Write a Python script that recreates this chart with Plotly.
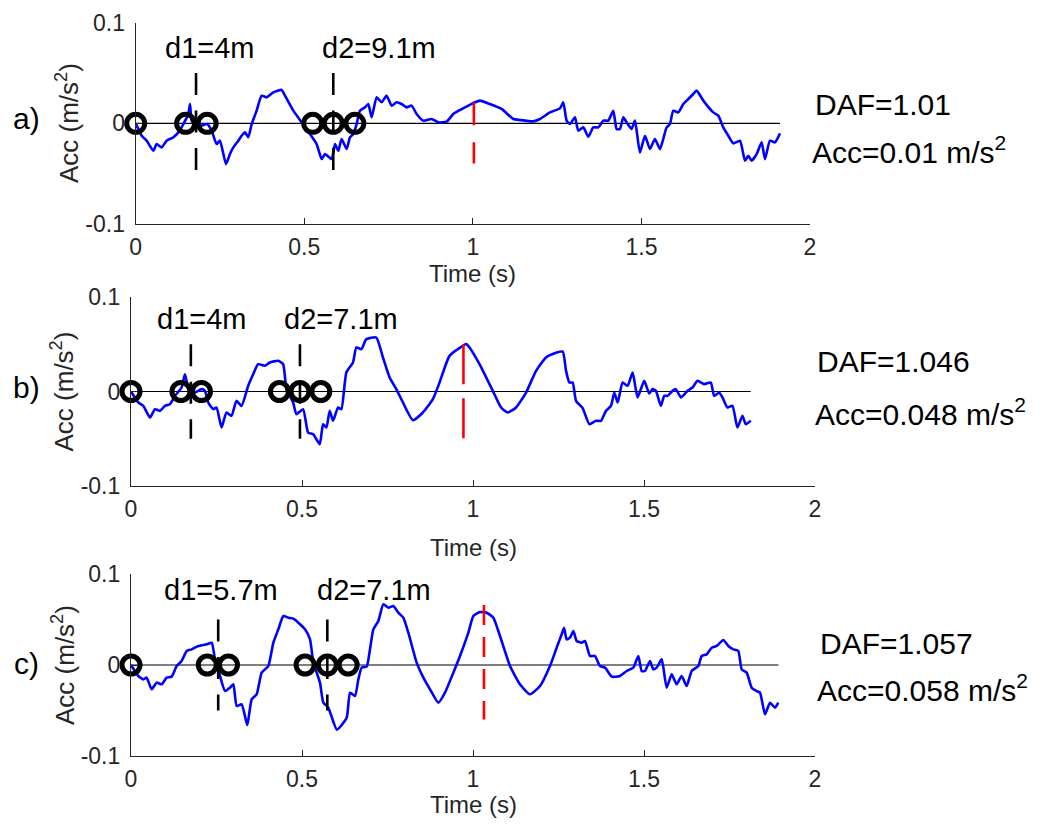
import plotly.graph_objects as go

W, H = 1043, 825

# ---------------- data ----------------
t_a = [0.0, 0.0177, 0.0325, 0.0523, 0.0622, 0.0770, 0.0918, 0.1116, 0.1264, 0.1413, 0.1561, 0.1610,
       0.1660, 0.1808, 0.1956, 0.2124, 0.2253, 0.2401, 0.2500, 0.2678, 0.2796, 0.2895, 0.3043, 0.3142,
       0.3241, 0.3340, 0.3439, 0.3587, 0.3735, 0.3884, 0.4082, 0.4329, 0.4428, 0.4675, 0.4922, 0.5169,
       0.5367, 0.5515, 0.5614, 0.5812, 0.5911, 0.6010, 0.6108, 0.6257, 0.6355, 0.6454, 0.6553, 0.6652,
       0.6800, 0.6899, 0.6998, 0.7146, 0.7294, 0.7443, 0.7591, 0.7739, 0.7887, 0.8036, 0.8184, 0.8332,
       0.8530, 0.8777, 0.8975, 0.9222, 0.9420, 0.9618, 0.9865, 1.0062, 1.0211, 1.0507, 1.0853, 1.1199,
       1.1397, 1.1792, 1.1990, 1.2287, 1.2583, 1.2682, 1.2781, 1.2880, 1.3028, 1.3127, 1.3276, 1.3424,
       1.3572, 1.3721, 1.3869, 1.4017, 1.4165, 1.4264, 1.4363, 1.4462, 1.4561, 1.4709, 1.4808, 1.4956,
       1.5105, 1.5253, 1.5401, 1.5550, 1.5747, 1.5846, 1.5945, 1.6094, 1.6242, 1.6390, 1.6539, 1.6638,
       1.6835, 1.7132, 1.7280, 1.7428, 1.7577, 1.7725, 1.7923, 1.8071, 1.8170, 1.8269, 1.8417, 1.8566,
       1.8665, 1.8813, 1.8961, 1.9110]
acc_a = [0.0, -0.0123, -0.0172, -0.0272, -0.0206, -0.0239, -0.0172, -0.0139, -0.0090, -0.0007, 0.0093, 0.0192,
         0.0027, -0.0040, -0.0023, -0.0007, -0.0073, -0.0206, -0.0172, -0.0405, -0.0305, -0.0239, -0.0172, -0.0123,
         -0.0090, -0.0139, -0.0007, 0.0126, 0.0275, 0.0259, 0.0308, 0.0332, 0.0275, 0.0126, 0.0010, -0.0106,
         -0.0206, -0.0355, -0.0305, -0.0355, -0.0206, -0.0272, -0.0156, -0.0255, -0.0139, -0.0106, -0.0007, 0.0126,
         0.0159, 0.0192, 0.0060, 0.0259, 0.0209, 0.0275, 0.0176, 0.0209, 0.0192, 0.0159, 0.0176, 0.0093,
         0.0027, 0.0043, 0.0010, 0.0017, 0.0093, 0.0133, 0.0176, 0.0209, 0.0226, 0.0192, 0.0143, 0.0043,
         0.0033, 0.0020, 0.0043, 0.0109, 0.0149, 0.0209, 0.0027, -0.0007, 0.0060, -0.0073, -0.0040, -0.0133,
         -0.0040, -0.0040, 0.0027, 0.0027, 0.0126, -0.0056, -0.0056, 0.0060, 0.0010, -0.0056, 0.0027, -0.0289,
         -0.0123, -0.0255, -0.0156, -0.0255, -0.0040, -0.0007, 0.0126, 0.0109, 0.0192, 0.0242, 0.0292, 0.0325,
         0.0226, 0.0109, 0.0076, -0.0040, -0.0123, -0.0199, -0.0172, -0.0371, -0.0322, -0.0371, -0.0305, -0.0189,
         -0.0355, -0.0172, -0.0189, -0.0100]

t_b = [0.0, 0.0214, 0.0360, 0.0555, 0.0701, 0.0847, 0.0993, 0.1139, 0.1285, 0.1479, 0.1577, 0.1674,
       0.1869, 0.2063, 0.2161, 0.2258, 0.2404, 0.2501, 0.2647, 0.2793, 0.2939, 0.3085, 0.3231, 0.3426,
       0.3572, 0.3718, 0.3912, 0.4058, 0.4302, 0.4448, 0.4545, 0.4740, 0.4837, 0.5032, 0.5178, 0.5324,
       0.5518, 0.5616, 0.5713, 0.5810, 0.5908, 0.6054, 0.6151, 0.6297, 0.6491, 0.6589, 0.6735, 0.6881,
       0.7173, 0.7367, 0.7562, 0.7757, 0.7951, 0.8243, 0.8535, 0.8827, 0.9022, 0.9314, 0.9703, 0.9800,
       0.9898, 1.0190, 1.0579, 1.0822, 1.1017, 1.1260, 1.1552, 1.1844, 1.2136, 1.2428, 1.2623, 1.2720,
       1.2818, 1.2915, 1.3012, 1.3207, 1.3401, 1.3596, 1.3742, 1.3888, 1.4034, 1.4131, 1.4229, 1.4375,
       1.4521, 1.4667, 1.4813, 1.5007, 1.5153, 1.5251, 1.5348, 1.5494, 1.5591, 1.5689, 1.5835, 1.5932,
       1.6078, 1.6273, 1.6418, 1.6564, 1.6759, 1.6953, 1.7051, 1.7197, 1.7294, 1.7440, 1.7586, 1.7732,
       1.7878, 1.7976, 1.8122]
acc_b = [0.0, -0.0116, -0.0152, -0.0275, -0.0187, -0.0205, -0.0152, -0.0134, -0.0046, 0.0042, 0.0183, 0.0042,
         -0.0011, 0.0025, 0.0007, -0.0116, -0.0187, -0.0169, -0.0381, -0.0222, -0.0257, -0.0099, -0.0152, 0.0060,
         0.0183, 0.0289, 0.0272, 0.0307, 0.0325, 0.0289, 0.0025, -0.0116, -0.0240, -0.0187, -0.0434, -0.0451,
         -0.0557, -0.0346, -0.0381, -0.0205, -0.0310, -0.0169, -0.0187, 0.0201, 0.0307, 0.0466, 0.0448, 0.0554,
         0.0571, 0.0360, 0.0148, 0.0025, -0.0116, -0.0303, -0.0222, -0.0081, 0.0095, 0.0377, 0.0483, 0.0501,
         0.0466, 0.0289, 0.0007, -0.0169, -0.0222, -0.0169, -0.0011, 0.0219, 0.0360, 0.0409, 0.0423, 0.0219,
         0.0095, 0.0095, -0.0099, -0.0176, -0.0346, -0.0310, -0.0310, -0.0205, -0.0152, -0.0011, -0.0116, 0.0095,
         0.0060, 0.0201, -0.0063, 0.0113, -0.0021, 0.0025, 0.0007, -0.0152, -0.0046, -0.0046, 0.0007, 0.0025,
         -0.0063, 0.0007, 0.0042, 0.0113, 0.0078, 0.0095, -0.0046, -0.0011, -0.0063, -0.0169, -0.0152, -0.0381,
         -0.0257, -0.0346, -0.0310]

t_c = [0.0, 0.0214, 0.0361, 0.0458, 0.0604, 0.0750, 0.0897, 0.1043, 0.1189, 0.1335, 0.1481, 0.1628,
       0.1774, 0.1969, 0.2212, 0.2359, 0.2456, 0.2602, 0.2749, 0.2895, 0.2992, 0.3090, 0.3236, 0.3400,
       0.3528, 0.3674, 0.3821, 0.4016, 0.4162, 0.4308, 0.4454, 0.4600, 0.4747, 0.4893, 0.5088, 0.5234,
       0.5331, 0.5429, 0.5526, 0.5624, 0.5770, 0.6020, 0.6306, 0.6404, 0.6550, 0.6647, 0.6745, 0.6891,
       0.6988, 0.7086, 0.7232, 0.7378, 0.7524, 0.7671, 0.7817, 0.7963, 0.8109, 0.8353, 0.8548, 0.8743,
       0.8986, 0.9181, 0.9425, 0.9620, 0.9864, 1.0010, 1.0205, 1.0400, 1.0595, 1.0789, 1.1082, 1.1374,
       1.1667, 1.1959, 1.2251, 1.2446, 1.2593, 1.2661, 1.2739, 1.2836, 1.2934, 1.3031, 1.3177, 1.3275,
       1.3421, 1.3567, 1.3713, 1.3860, 1.4055, 1.4298, 1.4493, 1.4688, 1.4834, 1.4932, 1.5029, 1.5175,
       1.5273, 1.5370, 1.5517, 1.5663, 1.5809, 1.5955, 1.6101, 1.6248, 1.6394, 1.6589, 1.6686, 1.6832,
       1.6979, 1.7125, 1.7320, 1.7466, 1.7612, 1.7758, 1.7856, 1.8002, 1.8148, 1.8294, 1.8392, 1.8538,
       1.8684, 1.8830, 1.8928]
acc_c = [0.0, -0.0121, -0.0158, -0.0139, -0.0267, -0.0194, -0.0212, -0.0139, -0.0128, -0.0011, 0.0044, 0.0154,
         0.0172, 0.0209, 0.0227, 0.0245, 0.0062, -0.0121, -0.0286, -0.0249, -0.0212, -0.0451, -0.0432, -0.0660,
         -0.0377, -0.0322, -0.0084, -0.0011, 0.0245, 0.0392, 0.0538, 0.0520, 0.0509, 0.0465, 0.0392, 0.0282,
         0.0026, -0.0084, -0.0194, -0.0414, -0.0469, -0.0710, -0.0579, -0.0304, -0.0341, -0.0158, -0.0029, -0.0018,
         0.0172, 0.0392, 0.0484, 0.0667, 0.0630, 0.0648, 0.0575, 0.0520, 0.0355, 0.0026, -0.0139, -0.0267,
         -0.0414, -0.0304, -0.0084, 0.0099, 0.0355, 0.0538, 0.0582, 0.0575, 0.0520, 0.0319, -0.0011, -0.0212,
         -0.0322, -0.0231, -0.0011, 0.0190, 0.0337, 0.0410, 0.0282, 0.0300, 0.0374, 0.0264, 0.0245, 0.0264,
         0.0099, 0.0099, -0.0011, -0.0029, -0.0128, -0.0121, -0.0066, -0.0029, 0.0099, -0.0066, -0.0066, 0.0044,
         -0.0048, -0.0029, 0.0062, -0.0249, -0.0103, -0.0212, -0.0121, -0.0231, -0.0066, -0.0011, 0.0099, 0.0117,
         0.0190, 0.0209, 0.0275, 0.0209, 0.0172, 0.0154, -0.0048, -0.0084, -0.0249, -0.0286, -0.0304, -0.0542,
         -0.0414, -0.0469, -0.0414]

circles_a = [0.0, 0.148, 0.212, 0.525, 0.586, 0.650]
circles_b = [0.0, 0.146, 0.206, 0.434, 0.494, 0.555]
circles_c = [0.0, 0.223, 0.285, 0.509, 0.574, 0.635]

dlines_a = [0.179, 0.586]
dlines_b = [0.175, 0.494]
dlines_c = [0.255, 0.574]
dline_span = [0.05, -0.05]

peak_a, peak_b, peak_c = 1.003, 0.972, 1.032
red_span_a = [0.021, -0.040]
red_span_b = [0.050, -0.056]
red_span_c = [0.066, -0.060]

zero_end = [1.911, 1.812, 1.893]

dlabels_a = ["d1=4m", "d2=9.1m"]
dlabels_b = ["d1=4m", "d2=7.1m"]
dlabels_c = ["d1=5.7m", "d2=7.1m"]
daf_labels = ["DAF=1.01", "DAF=1.046", "DAF=1.057"]
acc_labels = ["Acc=0.01 m/s<sup>2</sup>", "Acc=0.048 m/s<sup>2</sup>", "Acc=0.058 m/s<sup>2</sup>"]
panel_letters = ["a)", "b)", "c)"]

x_ticks = [0, 0.5, 1, 1.5, 2]
x_ticktext = ["0", "0.5", "1", "1.5", "2"]
y_ticks = [-0.1, 0, 0.1]
y_ticktext = ["-0.1", "0", "0.1"]

# ---------------- layout geometry (pixels) ----------------
FONT = "Liberation Sans, Arial, Helvetica, sans-serif"
AXC = "#262626"

panels = [
    dict(t=t_a, v=acc_a, circ=circles_a, dl=dlines_a, peak=peak_a, red=red_span_a,
         dlab=dlabels_a, dlab_x=[163, 320], dlab_y=48,
         x0=135.7, x1=810, ytop=22.7, ybot=224, red_dash="23px,17px",
         daf_x=813, daf_y=105, acc_x=810, acc_y=150, title_y=273, letter_y=118),
    dict(t=t_b, v=acc_b, circ=circles_b, dl=dlines_b, peak=peak_b, red=red_span_b,
         dlab=dlabels_b, dlab_x=[155, 282], dlab_y=319,
         x0=131, x1=815, ytop=297, ybot=486, red_dash="40px,14px",
         daf_x=815, daf_y=362, acc_x=813, acc_y=412, title_y=547, letter_y=388),
    dict(t=t_c, v=acc_c, circ=circles_c, dl=dlines_c, peak=peak_c, red=red_span_c,
         dlab=dlabels_c, dlab_x=[162, 315], dlab_y=590,
         x0=131, x1=815, ytop=574, ybot=756, red_dash="20px,12px",
         daf_x=818, daf_y=643, acc_x=815, acc_y=688, title_y=804, letter_y=663),
]


def px(x):
    return x / W


def py(y):
    return 1 - y / H


fig = go.Figure()
annotations = []
layout = {}

for i, p in enumerate(panels):
    n = "" if i == 0 else str(i + 1)
    xa, ya = "x" + n, "y" + n

    # zero line
    fig.add_trace(go.Scatter(x=[0, zero_end[i]], y=[0, 0], mode="lines",
                             line=dict(color="black", width=1.2), xaxis=xa, yaxis=ya,
                             showlegend=False, hoverinfo="skip"))
    # signal
    fig.add_trace(go.Scatter(x=p["t"], y=p["v"], mode="lines",
                             line=dict(color="#0000FF", width=2.6, shape="spline", smoothing=0.5),
                             xaxis=xa, yaxis=ya, showlegend=False, cliponaxis=False))
    # axle circles
    fig.add_trace(go.Scatter(x=p["circ"], y=[0] * len(p["circ"]), mode="markers",
                             marker=dict(symbol="circle-open", size=18, color="black",
                                         line=dict(width=5, color="black")),
                             xaxis=xa, yaxis=ya, showlegend=False, cliponaxis=False))
    # dashed black lines
    for xd in p["dl"]:
        fig.add_trace(go.Scatter(x=[xd, xd], y=dline_span, mode="lines",
                                 line=dict(color="black", width=2.6, dash="22px,15.5px"),
                                 xaxis=xa, yaxis=ya, showlegend=False, hoverinfo="skip"))
    # red dashed line
    fig.add_trace(go.Scatter(x=[p["peak"], p["peak"]], y=p["red"], mode="lines",
                             line=dict(color="#FF0000", width=2.6, dash=p["red_dash"]),
                             xaxis=xa, yaxis=ya, showlegend=False, hoverinfo="skip"))

    axis_common = dict(showgrid=False, zeroline=False, showline=True, linecolor=AXC, linewidth=1.2,
                       ticks="inside", ticklen=6, tickwidth=1.2, tickcolor=AXC,
                       tickfont=dict(family=FONT, size=23, color=AXC), mirror=False)
    layout["xaxis" + n] = dict(axis_common, domain=[px(p["x0"]), px(p["x1"])], range=[0, 2],
                               tickvals=x_ticks, ticktext=x_ticktext, anchor=ya,
                               ticklabelstandoff=2)
    layout["yaxis" + n] = dict(axis_common, domain=[py(p["ybot"]), py(p["ytop"])], range=[-0.1, 0.1],
                               tickvals=y_ticks, ticktext=y_ticktext, anchor=xa,
                               ticklabelstandoff=5)

    # axis titles
    annotations.append(dict(text="Time (s)", x=px((p["x0"] + p["x1"]) / 2), y=py(p["title_y"]),
                            xref="paper", yref="paper", showarrow=False, xanchor="center",
                            yanchor="middle", font=dict(family=FONT, size=24, color=AXC)))
    annotations.append(dict(text="Acc (m/s<sup>2</sup>)", x=px(p["x0"] - 68),
                            y=py((p["ytop"] + p["ybot"]) / 2),
                            xref="paper", yref="paper", showarrow=False, textangle=-90,
                            xanchor="center", yanchor="middle",
                            font=dict(family=FONT, size=26, color=AXC)))
    # panel letter
    annotations.append(dict(text=panel_letters[i], x=px(26), y=py(p["letter_y"]),
                            xref="paper", yref="paper", showarrow=False, xanchor="center",
                            yanchor="middle", font=dict(family=FONT, size=30, color="black")))
    # distance labels
    for lab, lx in zip(p["dlab"], p["dlab_x"]):
        annotations.append(dict(text=lab, x=px(lx), y=py(p["dlab_y"]), xref="paper", yref="paper",
                                showarrow=False, xanchor="left", yanchor="middle",
                                font=dict(family=FONT, size=29, color="black")))
    # DAF text
    annotations.append(dict(text=daf_labels[i], x=px(p["daf_x"]), y=py(p["daf_y"]), xref="paper",
                            yref="paper", showarrow=False, xanchor="left", yanchor="middle",
                            font=dict(family=FONT, size=30, color="black")))
    annotations.append(dict(text=acc_labels[i], x=px(p["acc_x"]), y=py(p["acc_y"]), xref="paper",
                            yref="paper", showarrow=False, xanchor="left", yanchor="middle",
                            font=dict(family=FONT, size=30, color="black")))

fig.update_layout(
    width=W, height=H,
    margin=dict(l=0, r=0, t=0, b=0, pad=0, autoexpand=False),
    paper_bgcolor="white", plot_bgcolor="white",
    showlegend=False,
    annotations=annotations,
    **layout,
)

fig.write_html("out.html")
